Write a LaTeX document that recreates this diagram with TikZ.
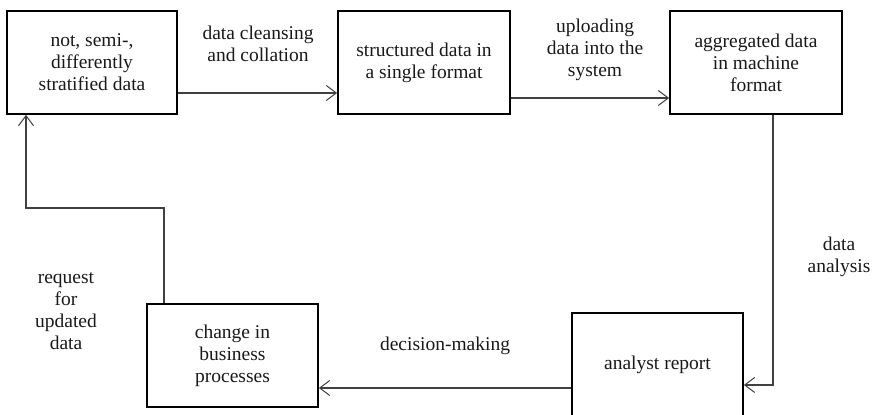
\documentclass[tikz,border=0pt]{standalone}
\usepackage{fontspec}
\setmainfont{Liberation Serif}
\usetikzlibrary{arrows.meta}
\begin{document}
\begin{tikzpicture}[x=1pt,y=-1pt,
  box/.style={draw=black,line width=1.8pt,minimum height=103pt,align=center,inner sep=2pt,
    font=\fontsize{19.5}{22}\selectfont,text=black!90},
  lbl/.style={align=center,font=\fontsize{19.5}{22}\selectfont,text=black!90,inner sep=0pt},
  arr/.style={draw=black!75,line width=1.1pt,-{Straight Barb[length=10pt,width=15pt,line width=1pt]}}]
\clip (0,0) rectangle (873,415);
\node[box,minimum width=170pt] (b1) at (92,62.5) {not, semi-,\\differently\\stratified data};
\node[box,minimum width=172pt] (b2) at (424,62.5) {structured data in\\a single format};
\node[box,minimum width=172pt] (b3) at (756,62.5) {aggregated data\\in machine\\format};
\node[box,minimum width=171pt] (chg) at (232.5,355.5) {change in\\business\\processes};
\node[box,minimum width=171pt] (ana) at (657.5,364.5) {analyst report};
\node[lbl] (l1) at (258,44) {data cleansing\\and collation};
\node[lbl] (l2) at (595,50) {uploading\\data into the\\system};
\node[lbl] (l3) at (839,257) {data\\analysis};
\node[lbl] (l4) at (445,346) {decision-making};
\node[lbl] (l5) at (66,311) {request\\for\\updated\\data};
\coordinate (bend) at (100,208);
\draw[arr] ([yshift=-30.5pt]b1.east) -- ([yshift=-30.5pt]b2.west);
\draw[arr] ([yshift=-35.5pt]b2.east) -- ([yshift=-35.5pt]b3.west);
\draw[arr] ([xshift=17pt]b3.south) |- ([yshift=-20.5pt]ana.east);
\draw[arr] ([yshift=-23.5pt]ana.west) -- ([yshift=-23.5pt]ana.west -| chg.east);
\draw[arr] ([xshift=-68.5pt]chg.north) |- (bend) -| ([xshift=-66pt]b1.south);
\end{tikzpicture}
\end{document}
